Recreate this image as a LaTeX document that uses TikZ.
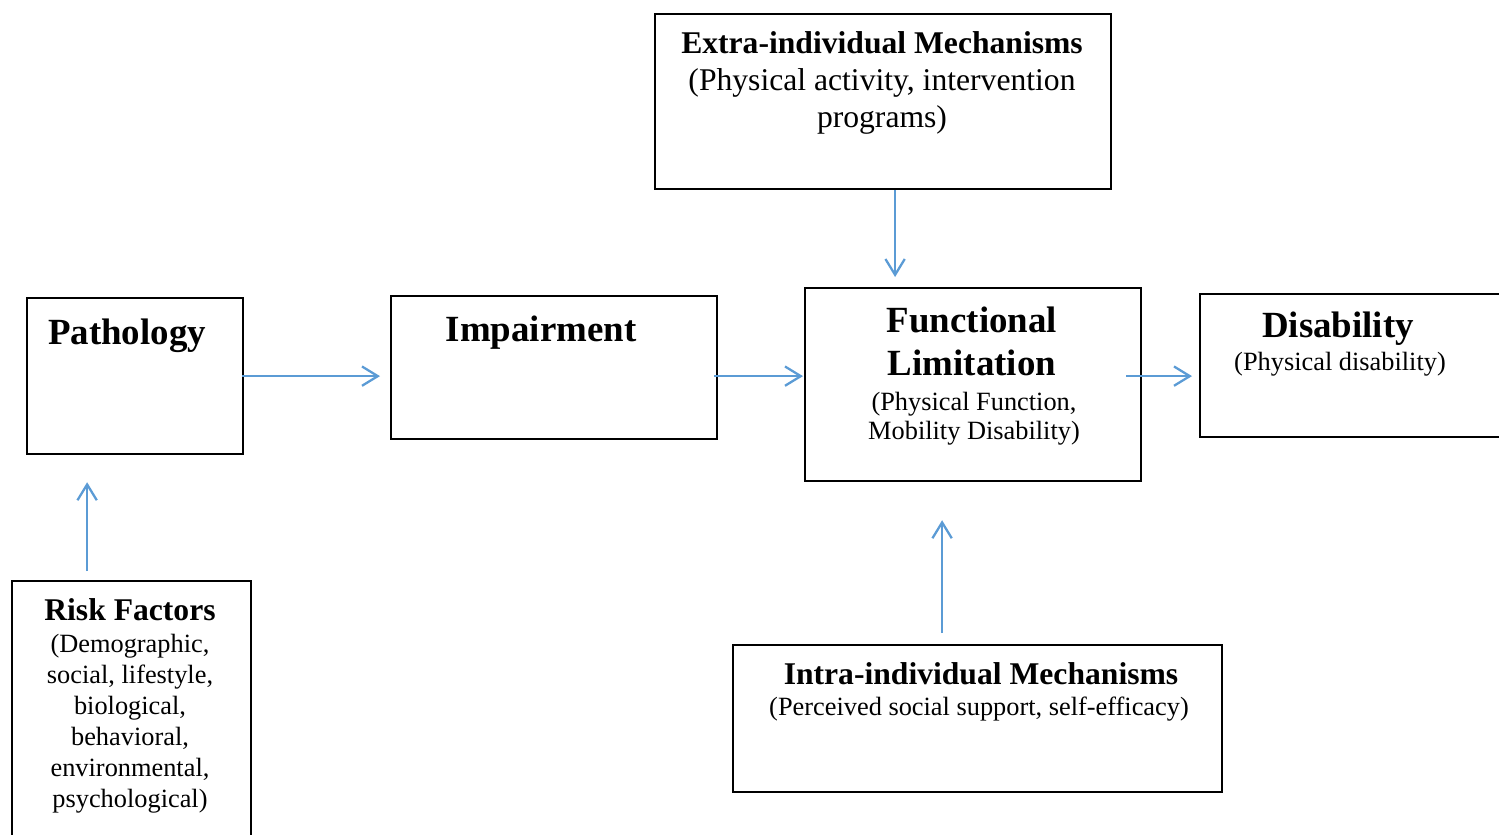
\documentclass[tikz,border=0pt]{standalone}
\usepackage{fontspec}
\setmainfont{Liberation Serif}
\usepackage{tikz}
\usetikzlibrary{arrows.meta,positioning}
\definecolor{linkblue}{HTML}{5B9BD5}

\begin{document}
\begin{tikzpicture}[
    x=0.02cm, y=-0.02cm,
    box/.style={
        rectangle,
        draw=black,
        line width=1.3pt,
        anchor=north west,
        inner sep=0pt
    },
    head/.style={
        font=\fontsize{21}{24.4}\selectfont\bfseries,
        anchor=base,
        align=center,
        inner sep=0pt
    },
    subhead/.style={
        font=\fontsize{18}{21}\selectfont\bfseries,
        anchor=base,
        align=center,
        inner sep=0pt
    },
    body/.style={
        font=\fontsize{15}{17.6}\selectfont,
        anchor=base,
        align=center,
        inner sep=0pt
    },
    link/.style={
        draw=linkblue,
        line width=1.3pt,
        -{Straight Barb[length=9pt,width=11pt,line width=1.3pt]}
    }
]
\useasboundingbox (0,0) rectangle (1499,835);

% Boxes
\node[box, minimum width=9.12cm, minimum height=3.5cm]  (extra)  at (654,13)  {};
\node[box, minimum width=4.32cm, minimum height=3.12cm] (patho)  at (26,297)  {};
\node[box, minimum width=6.52cm, minimum height=2.86cm] (impair) at (390,295) {};
\node[box, minimum width=6.72cm, minimum height=3.86cm] (func)   at (804,287) {};
\node[box, minimum width=6.5cm,  minimum height=2.86cm] (dis)    at (1199,293) {};
\node[box, minimum width=4.78cm, minimum height=5.6cm]  (risk)   at (11,580)  {};
\node[box, minimum width=9.78cm, minimum height=2.94cm] (intra)  at (732,644) {};

% Texts (multi-line nodes sit on the baseline of their last line)
\node[subhead] (extra-t) at (882,53) {Extra-individual Mechanisms};
\node[body, font=\fontsize{18}{21}\selectfont] (extra-b) at (882,127)
    {(Physical activity, intervention\\programs)};

\node[head] (patho-t)  at (127,344) {Pathology};
\node[head] (impair-t) at (541,341) {Impairment};

\node[head] (func-t) at (972,375) {Functional\\Limitation};
\node[body, font=\fontsize{15}{16.5}\selectfont] (func-b) at (974,439)
    {(Physical Function,\\Mobility Disability)};

\node[head] (dis-t) at (1338,337) {Disability};
\node[body] (dis-b) at (1340,370) {(Physical disability)};

\node[subhead] (risk-t) at (130,620) {Risk Factors};
\node[body] (risk-b) at (130,807)
    {(Demographic,\\social, lifestyle,\\biological,\\behavioral,\\environmental,\\psychological)};

\node[subhead] (intra-t) at (981,684) {Intra-individual Mechanisms};
\node[body] (intra-b) at (979,715) {(Perceived social support, self-efficacy)};

% Arrows along the main chain
\draw[link, shorten <=-0.04cm, shorten >=0.2cm] (patho.east) -- (patho.east -| impair.west);
\draw[link, shorten <=-0.08cm, shorten >=0.02cm] (impair.east |- patho.east) -- (func.west |- patho.east);
\draw[link, shorten <=-0.32cm, shorten >=0.14cm] (func.east |- patho.east) -- (dis.west |- patho.east);

% Arrows from the mechanisms and risk factors
\draw[link, shorten >=0.2cm] ([xshift=0.24cm]extra.south) -- ([xshift=0.24cm]extra.south |- func.north);
\draw[link, shorten <=0.22cm, shorten >=0.76cm] ([xshift=-0.71cm]intra.north) -- ([xshift=-0.71cm]intra.north |- func.south);
\draw[link, shorten <=0.18cm, shorten >=0.54cm] ([xshift=-0.89cm]risk.north) -- ([xshift=-0.89cm]risk.north |- patho.south);

\end{tikzpicture}
\end{document}
